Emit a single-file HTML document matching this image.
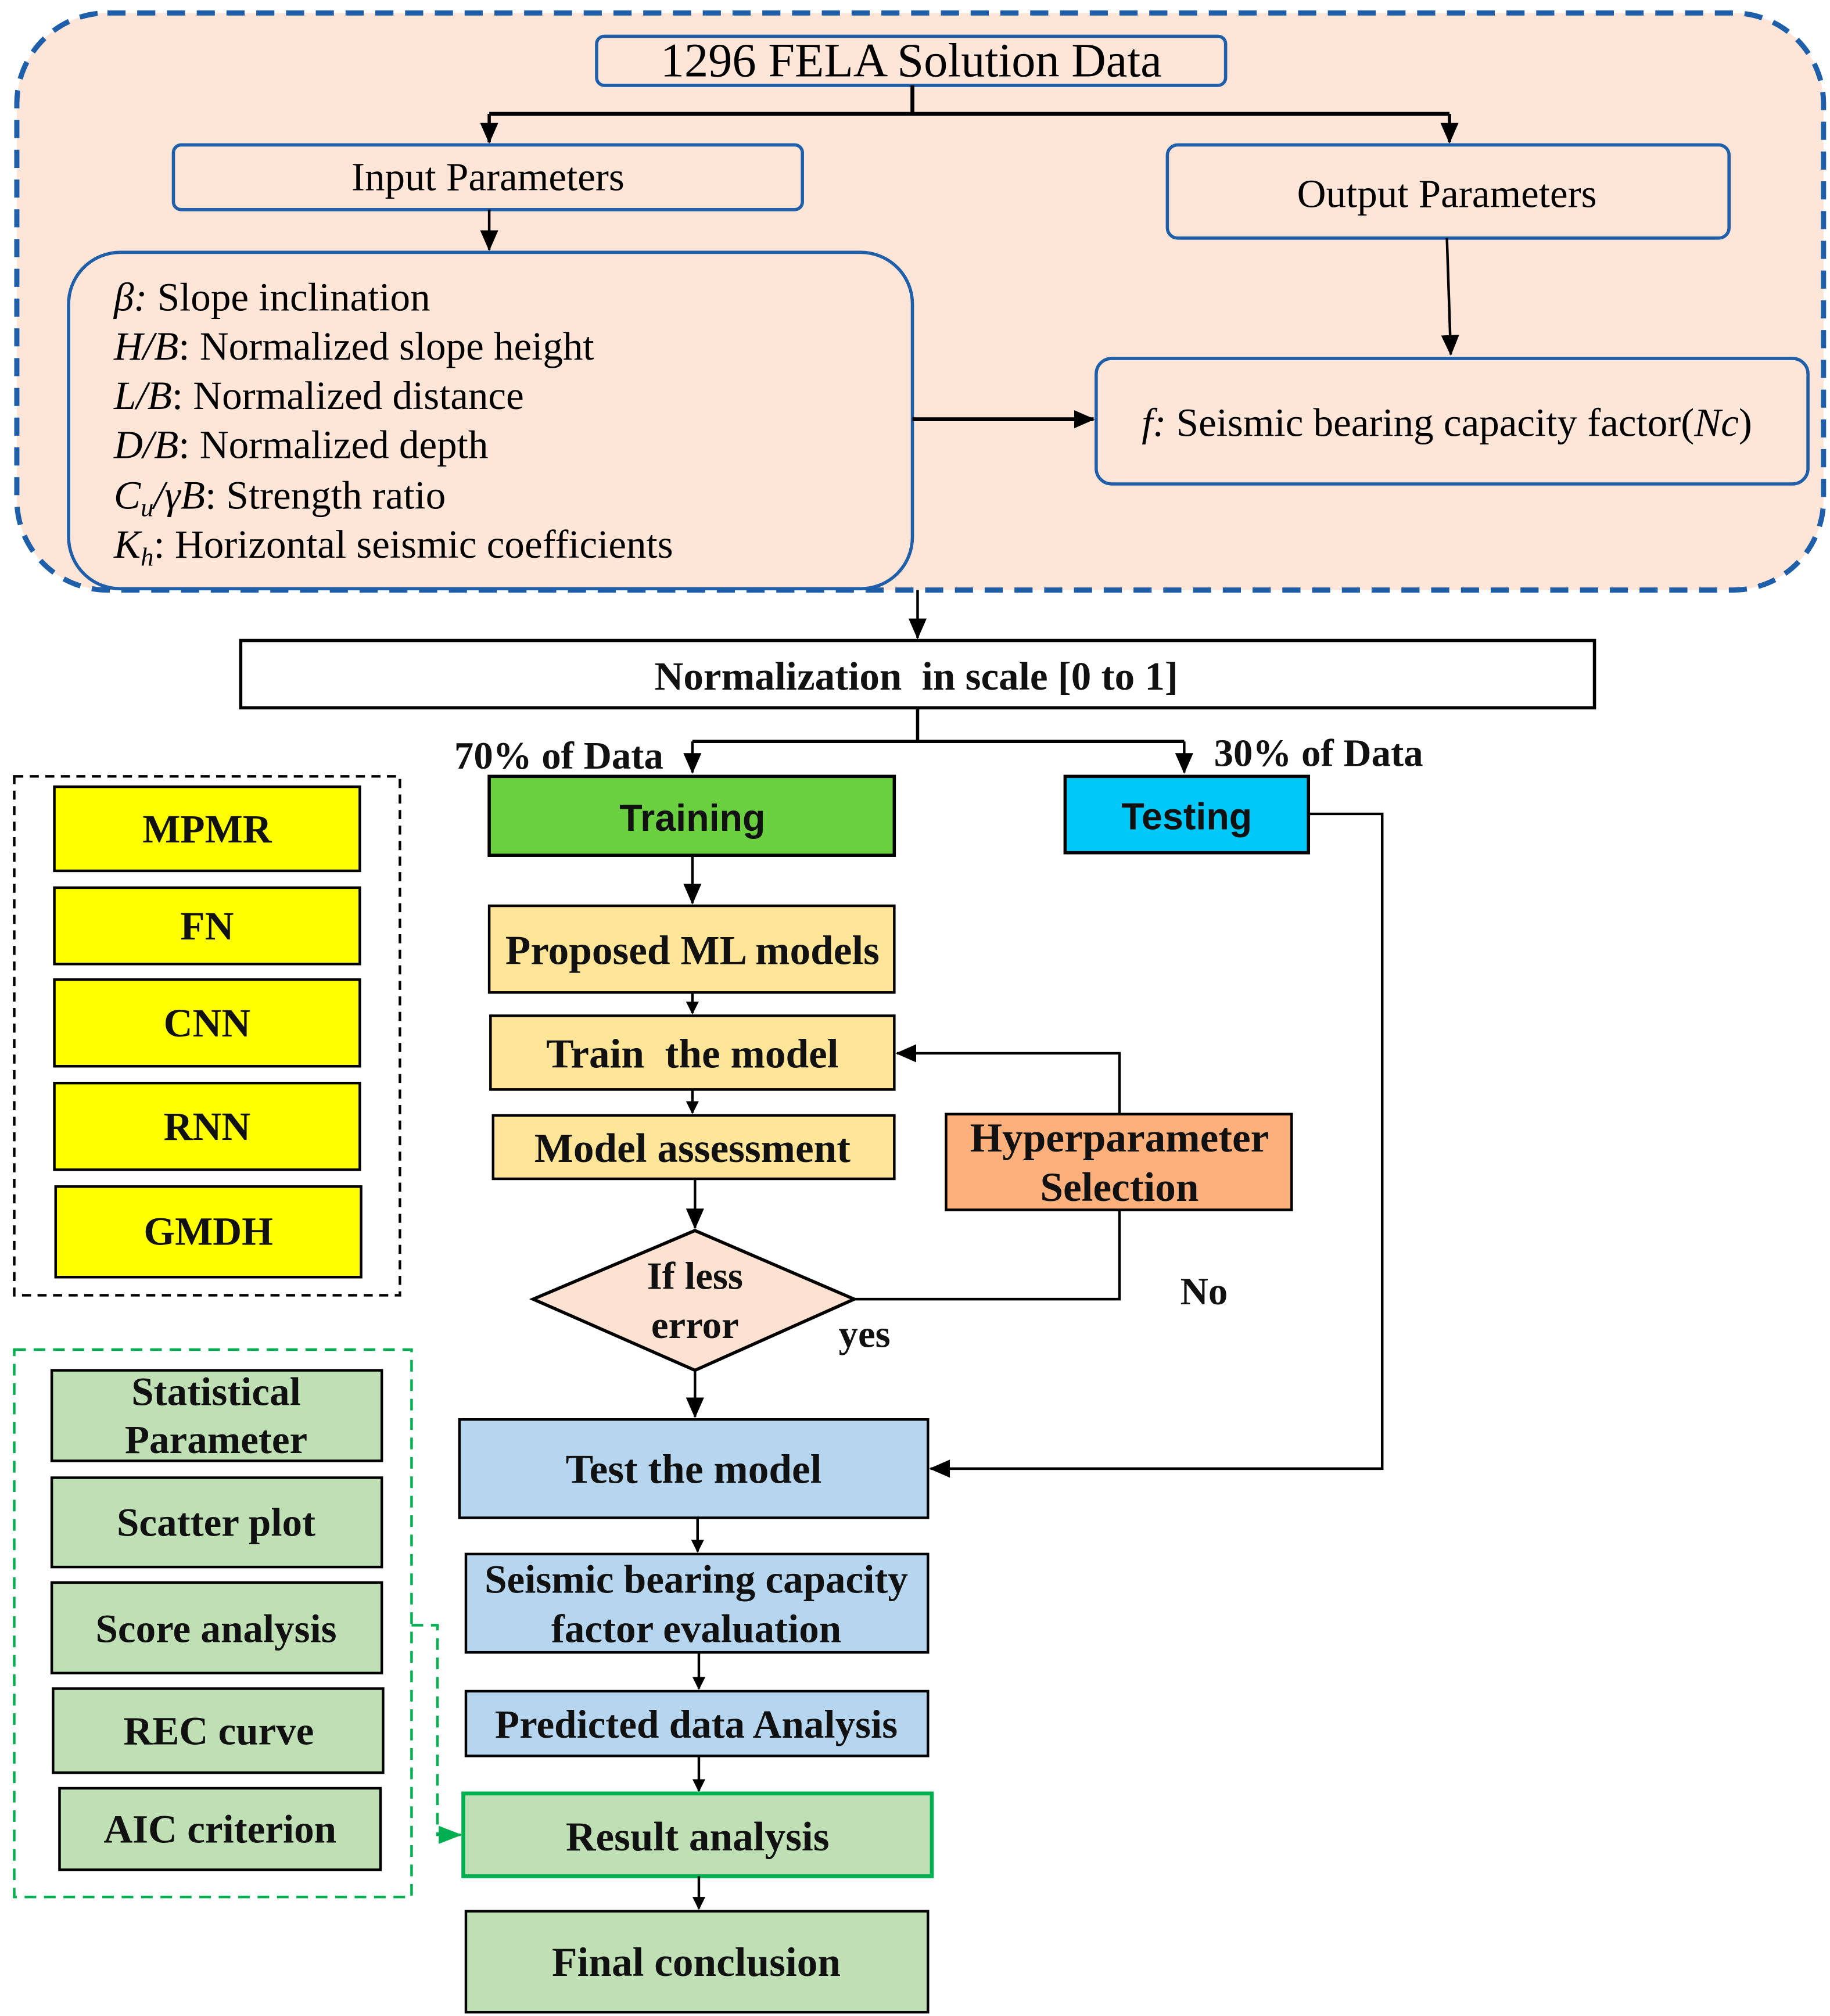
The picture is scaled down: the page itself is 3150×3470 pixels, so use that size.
<!DOCTYPE html>
<html><head><meta charset="utf-8"><style>
html,body{margin:0;padding:0;background:#fff;}
svg{display:block;}
text{font-family:"Liberation Serif",serif;}
.b{font-weight:bold;fill:#111;}
</style></head><body>
<svg width="3150" height="3470" viewBox="0 0 1414 1558" preserveAspectRatio="none" xmlns="http://www.w3.org/2000/svg">
<defs>
<marker id="a" markerWidth="10" markerHeight="10" refX="9" refY="5" orient="auto" markerUnits="userSpaceOnUse" viewBox="0 0 10 10"><path d="M0,0 L10,5 L0,10 z" fill="#000"/></marker>
<marker id="ab" markerWidth="16" markerHeight="14" refX="15" refY="7" orient="auto" markerUnits="userSpaceOnUse" viewBox="0 0 16 14"><path d="M0,0 L16,7 L0,14 z" fill="#000"/></marker>
<marker id="ag" markerWidth="18" markerHeight="14" refX="17" refY="7" orient="auto" markerUnits="userSpaceOnUse" viewBox="0 0 18 14"><path d="M0,0 L18,7 L0,14 z" fill="#00b050"/></marker>
</defs>
<rect x="13" y="10" width="1396" height="446" rx="70" fill="#fde5d8" stroke="#1f5ea8" stroke-width="4" stroke-dasharray="14,9"/>
<rect x="461" y="28" width="486" height="38" rx="6" fill="#fde5d8" stroke="#1f5ea8" stroke-width="2.5"/>
<text x="704" y="59" font-size="37" text-anchor="middle">1296 FELA Solution Data</text>
<path d="M705 66 V88 M378 88 H1120" stroke="#000" stroke-width="3" fill="none"/>
<line x1="378" y1="88" x2="378" y2="110" stroke="#000" stroke-width="2.5" marker-end="url(#ab)"/>
<line x1="1120" y1="88" x2="1120" y2="110" stroke="#000" stroke-width="2.5" marker-end="url(#ab)"/>
<rect x="134" y="112" width="486" height="50" rx="6" fill="#fde5d8" stroke="#1f5ea8" stroke-width="2.5"/>
<text x="377" y="147" font-size="31" text-anchor="middle">Input Parameters</text>
<rect x="902" y="112" width="434" height="72" rx="8" fill="#fde5d8" stroke="#1f5ea8" stroke-width="2.5"/>
<text x="1118" y="160" font-size="31" text-anchor="middle">Output Parameters</text>
<line x1="378" y1="162" x2="378" y2="193" stroke="#000" stroke-width="2" marker-end="url(#ab)"/>
<rect x="53" y="195" width="652" height="260" rx="40" fill="#fde5d8" stroke="#1f5ea8" stroke-width="2.5"/>
<g font-size="31">
<text x="88" y="240"><tspan font-style="italic">β:</tspan> Slope inclination</text>
<text x="88" y="278"><tspan font-style="italic">H/B</tspan>: Normalized slope height</text>
<text x="88" y="316"><tspan font-style="italic">L/B</tspan>: Normalized distance</text>
<text x="88" y="354"><tspan font-style="italic">D/B</tspan>: Normalized depth</text>
<text x="88" y="393"><tspan font-style="italic">C<tspan font-size="20" dy="6">u</tspan><tspan dy="-6">/γB</tspan></tspan>: Strength ratio</text>
<text x="88" y="431"><tspan font-style="italic">K<tspan font-size="20" dy="6">h</tspan></tspan><tspan dy="-6">: Horizontal seismic coefficients</tspan></text>
</g>
<line x1="1118" y1="184" x2="1121" y2="274" stroke="#000" stroke-width="2" marker-end="url(#ab)"/>
<rect x="847" y="277" width="550" height="97" rx="12" fill="#fde5d8" stroke="#1f5ea8" stroke-width="2.5"/>
<text x="1118" y="337" font-size="31" text-anchor="middle"><tspan font-style="italic">f:</tspan> Seismic bearing capacity factor(<tspan font-style="italic">Nc</tspan>)</text>
<line x1="705" y1="324" x2="845" y2="324" stroke="#000" stroke-width="3" marker-end="url(#ab)"/>
<line x1="709" y1="456" x2="709" y2="493" stroke="#000" stroke-width="2" marker-end="url(#ab)"/>
<rect x="186" y="495" width="1046" height="52" fill="#fff" stroke="#000" stroke-width="2.5"/>
<text x="708" y="533" font-size="31" class="b" text-anchor="middle" xml:space="preserve">Normalization  in scale [0 to 1]</text>
<path d="M709 547 V573 M535 573 H915" stroke="#000" stroke-width="2.5" fill="none"/>
<line x1="535" y1="573" x2="535" y2="597" stroke="#000" stroke-width="2" marker-end="url(#ab)"/>
<line x1="915" y1="573" x2="915" y2="597" stroke="#000" stroke-width="2" marker-end="url(#ab)"/>
<text x="351" y="594" font-size="30" class="b">70% of Data</text>
<text x="938" y="592" font-size="30" class="b">30% of Data</text>
<rect x="378" y="600" width="313" height="61" fill="#6ad040" stroke="#000" stroke-width="2.5"/>
<text x="535" y="642" font-size="29" class="b" text-anchor="middle" style="font-family:'Liberation Sans',sans-serif">Training</text>
<rect x="823" y="600" width="188" height="59" fill="#00c8f8" stroke="#000" stroke-width="2.5"/>
<text x="917" y="641" font-size="29" class="b" text-anchor="middle" style="font-family:'Liberation Sans',sans-serif">Testing</text>
<line x1="535" y1="661" x2="535" y2="698" stroke="#000" stroke-width="2" marker-end="url(#ab)"/>
<rect x="378" y="700" width="313" height="67" fill="#fee598" stroke="#000" stroke-width="2"/>
<text x="535" y="745" font-size="32" class="b" text-anchor="middle">Proposed ML models</text>
<line x1="535" y1="767" x2="535" y2="783" stroke="#000" stroke-width="2" marker-end="url(#a)"/>
<rect x="379" y="785" width="312" height="57" fill="#fee598" stroke="#000" stroke-width="2"/>
<text x="535" y="825" font-size="32" class="b" text-anchor="middle" xml:space="preserve">Train  the model</text>
<line x1="535" y1="842" x2="535" y2="860" stroke="#000" stroke-width="2" marker-end="url(#a)"/>
<rect x="381" y="862" width="310" height="49" fill="#fee598" stroke="#000" stroke-width="2"/>
<text x="535" y="898" font-size="32" class="b" text-anchor="middle">Model assessment</text>
<line x1="537" y1="911" x2="537" y2="949" stroke="#000" stroke-width="2" marker-end="url(#ab)"/>
<polygon points="537,951 660,1004 537,1059 412,1004" fill="#fde2d2" stroke="#000" stroke-width="2.5"/>
<text x="537" y="996" font-size="30" class="b" text-anchor="middle">If less</text>
<text x="537" y="1034" font-size="30" class="b" text-anchor="middle">error</text>
<text x="648" y="1041" font-size="30" class="b">yes</text>
<text x="912" y="1008" font-size="30" class="b">No</text>
<rect x="731" y="861" width="267" height="74" fill="#fcb07c" stroke="#000" stroke-width="2"/>
<text x="865" y="890" font-size="32" class="b" text-anchor="middle">Hyperparameter</text>
<text x="865" y="928" font-size="32" class="b" text-anchor="middle">Selection</text>
<path d="M660 1004 H865 V935" stroke="#000" stroke-width="2" fill="none"/>
<path d="M865 861 V814 H693" stroke="#000" stroke-width="2" fill="none" marker-end="url(#ab)"/>
<line x1="537" y1="1059" x2="537" y2="1095" stroke="#000" stroke-width="2" marker-end="url(#ab)"/>
<rect x="355" y="1097" width="362" height="76" fill="#b5d6ee" stroke="#000" stroke-width="2"/>
<text x="536" y="1146" font-size="32" class="b" text-anchor="middle">Test the model</text>
<path d="M1011 629 H1068 V1135 H719" stroke="#000" stroke-width="2" fill="none" marker-end="url(#ab)"/>
<line x1="539" y1="1173" x2="539" y2="1199" stroke="#000" stroke-width="2" marker-end="url(#a)"/>
<rect x="360" y="1201" width="357" height="76" fill="#b5d6ee" stroke="#000" stroke-width="2"/>
<text x="538" y="1231" font-size="31" class="b" text-anchor="middle">Seismic bearing capacity</text>
<text x="538" y="1269" font-size="31" class="b" text-anchor="middle">factor evaluation</text>
<line x1="540" y1="1277" x2="540" y2="1305" stroke="#000" stroke-width="2" marker-end="url(#a)"/>
<rect x="360" y="1307" width="357" height="50" fill="#b5d6ee" stroke="#000" stroke-width="2"/>
<text x="538" y="1343" font-size="31" class="b" text-anchor="middle">Predicted data Analysis</text>
<line x1="540" y1="1357" x2="540" y2="1384" stroke="#000" stroke-width="2" marker-end="url(#a)"/>
<rect x="358" y="1386" width="362" height="64" fill="#bfe0b5" stroke="#00b050" stroke-width="3"/>
<text x="539" y="1430" font-size="32" class="b" text-anchor="middle">Result analysis</text>
<line x1="540" y1="1450" x2="540" y2="1475" stroke="#000" stroke-width="2" marker-end="url(#a)"/>
<rect x="360" y="1477" width="357" height="78" fill="#bfe0b5" stroke="#000" stroke-width="2"/>
<text x="538" y="1527" font-size="32" class="b" text-anchor="middle">Final conclusion</text>
<rect x="11" y="600" width="298" height="401" fill="none" stroke="#000" stroke-width="2" stroke-dasharray="7,5"/>
<g font-size="31" text-anchor="middle" class="b">
<rect x="42" y="608" width="236" height="65" fill="#ffff00" stroke="#000" stroke-width="2"/><text x="160" y="651">MPMR</text>
<rect x="42" y="686" width="236" height="59" fill="#ffff00" stroke="#000" stroke-width="2"/><text x="160" y="726">FN</text>
<rect x="42" y="757" width="236" height="67" fill="#ffff00" stroke="#000" stroke-width="2"/><text x="160" y="801">CNN</text>
<rect x="42" y="837" width="236" height="67" fill="#ffff00" stroke="#000" stroke-width="2"/><text x="160" y="881">RNN</text>
<rect x="43" y="917" width="236" height="70" fill="#ffff00" stroke="#000" stroke-width="2"/><text x="161" y="962">GMDH</text>
</g>
<rect x="11" y="1043" width="307" height="423" fill="none" stroke="#00b050" stroke-width="2" stroke-dasharray="9,6"/>
<path d="M318 1256 H338 V1418 H356" stroke="#00b050" stroke-width="2" stroke-dasharray="9,6" fill="none" marker-end="url(#ag)"/>
<g font-size="31" text-anchor="middle" class="b">
<rect x="40" y="1059" width="255" height="70" fill="#bfe0b5" stroke="#000" stroke-width="2"/><text x="167" y="1086">Statistical</text><text x="167" y="1123">Parameter</text>
<rect x="40" y="1142" width="255" height="69" fill="#bfe0b5" stroke="#000" stroke-width="2"/><text x="167" y="1187">Scatter plot</text>
<rect x="40" y="1223" width="255" height="70" fill="#bfe0b5" stroke="#000" stroke-width="2"/><text x="167" y="1269">Score analysis</text>
<rect x="41" y="1305" width="255" height="65" fill="#bfe0b5" stroke="#000" stroke-width="2"/><text x="169" y="1348">REC curve</text>
<rect x="46" y="1382" width="248" height="63" fill="#bfe0b5" stroke="#000" stroke-width="2"/><text x="170" y="1424">AIC criterion</text>
</g>
</svg>
</body></html>
